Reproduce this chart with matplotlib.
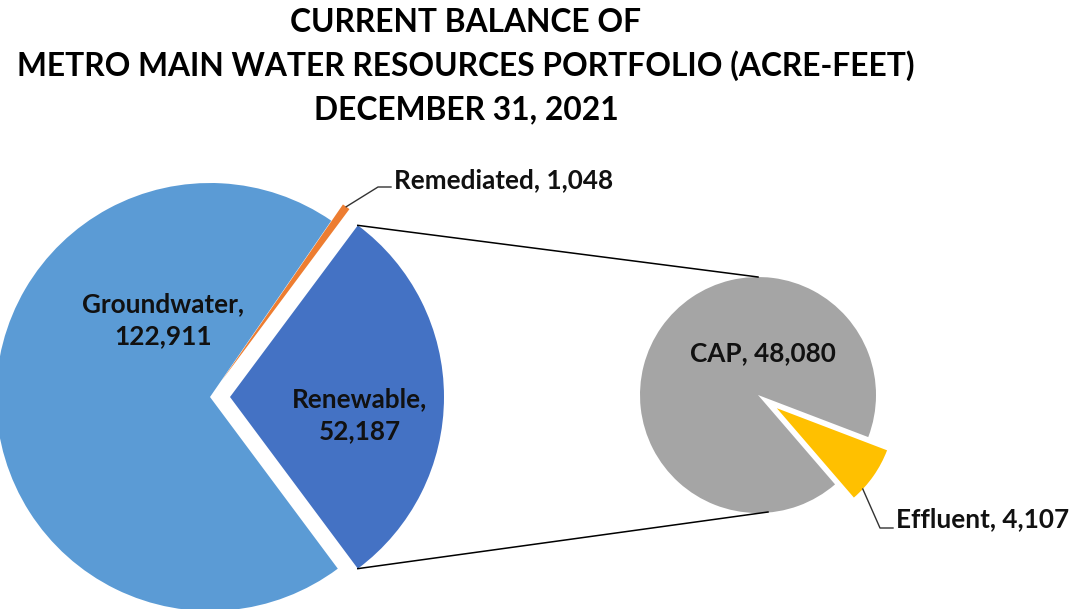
import numpy as np
import matplotlib
matplotlib.use("Agg")
import matplotlib.pyplot as plt

# ---- data ----
main_labels = ["Renewable", "Remediated", "Groundwater"]
main_values = [52187, 1048, 122911]
main_colors = ["#4472C4", "#ED7D31", "#5B9BD5"]

sub_labels = ["CAP", "Effluent"]
sub_values = [48080, 4107]
sub_colors = ["#A5A5A5", "#FFC000"]

title_lines = ["CURRENT BALANCE OF",
               "METRO MAIN WATER RESOURCES PORTFOLIO (ACRE-FEET)",
               "DECEMBER 31, 2021"]

W, H = 1089, 609
FONT = "Lato"

fig = plt.figure(figsize=(W / 100, H / 100), dpi=100)
ax = fig.add_axes([0, 0, 1, 1])


def Y(y):
    return H - y


# main pie (explode given in data units = pixels)
main_total = sum(main_values)
start_main = -main_values[0] / main_total * 360 / 2
c1 = (210, Y(397))
r1 = 214
w1, _ = ax.pie(main_values, colors=main_colors, startangle=start_main,
               counterclock=True, center=c1, radius=r1,
               explode=[20, 20, 0], frame=True)

# secondary pie
c2 = (758, Y(395))
r2 = 118
w2, _ = ax.pie(sub_values, colors=sub_colors, startangle=-20.9,
               counterclock=True, center=c2, radius=r2,
               explode=[0, 23], frame=True)
ax.set_xlim(0, W)
ax.set_ylim(0, H)
ax.set_aspect("equal")
ax.axis("off")


def pt(w, ang):
    cx, cy = w.center
    return cx + w.r * np.cos(np.radians(ang)), cy + w.r * np.sin(np.radians(ang))


# connector lines
ren = w1[0]
p_top = pt(ren, ren.theta2)
p_bot = pt(ren, ren.theta1)
ax.plot([p_top[0], c2[0]], [p_top[1], c2[1] + r2], color="black", lw=1.1)
ax.plot([p_bot[0], c2[0] + 10], [p_bot[1], c2[1] - r2 + 1], color="black", lw=1.1)

tkw = dict(family=FONT, fontweight="bold", fontsize=18.8, color="#111111")

# title
for i, line in enumerate(title_lines):
    ax.text(466, Y(22 + 44 * i), line, ha="center", va="center",
            family=FONT, fontweight="bold", fontsize=22.9, color="black")

# labels inside
ax.text(163, Y(320), f"{main_labels[2]},\n{main_values[2]:,}", ha="center",
        va="center", linespacing=1.38, **tkw)
ax.text(360, Y(415), f"{main_labels[0]},\n{main_values[0]:,}", ha="center",
        va="center", linespacing=1.38, **tkw)
ax.text(763, Y(353), f"{sub_labels[0]}, {sub_values[0]:,}", ha="center",
        va="center", **tkw)

# remediated label with leader
rem = w1[1]
pr = pt(rem, (rem.theta1 + rem.theta2) / 2)
ax.plot([pr[0], 378, 391], [pr[1], Y(187), Y(187)], color="#333333", lw=1.0)
ax.text(394, Y(180), f"{main_labels[1]}, {main_values[1]:,}", ha="left",
        va="center", **tkw)

# effluent label with leader
eff = w2[1]
pe = pt(eff, eff.theta1 + 6)
ax.plot([pe[0], 880, 893], [pe[1], Y(528), Y(528)], color="#333333", lw=1.0)
ax.text(896, Y(519), f"{sub_labels[1]}, {sub_values[1]:,}", ha="left",
        va="center", **tkw)

fig.savefig("out.png", dpi=100)
